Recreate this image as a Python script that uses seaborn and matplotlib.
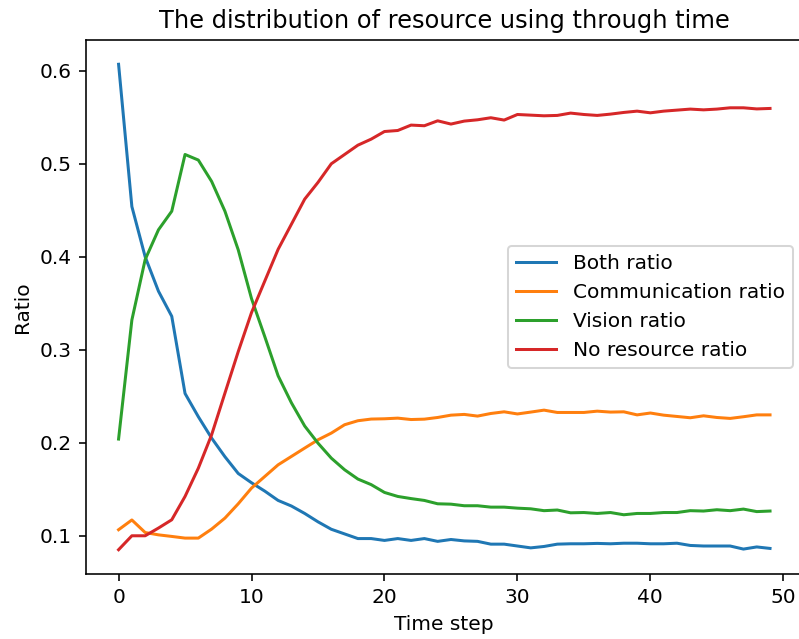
import matplotlib
matplotlib.use("Agg")
import matplotlib.pyplot as plt
import seaborn as sns
import pandas as pd
import numpy as np

time_steps = list(range(50))

both_ratio = [0.607, 0.454, 0.400, 0.363, 0.336, 0.253, 0.228, 0.205, 0.185, 0.167,
              0.157, 0.148, 0.138, 0.132, 0.124, 0.115, 0.107, 0.102, 0.097, 0.097,
              0.095, 0.097, 0.095, 0.097, 0.094, 0.096, 0.0945, 0.094, 0.091, 0.091,
              0.089, 0.087, 0.0885, 0.091, 0.0914, 0.0914, 0.0918, 0.0914, 0.092, 0.092,
              0.0914, 0.0914, 0.092, 0.0896, 0.089, 0.089, 0.089, 0.0857, 0.088, 0.0864]

communication_ratio = [0.1065, 0.117, 0.1035, 0.101, 0.0993, 0.0975, 0.0975, 0.1072, 0.119, 0.1344,
                       0.1513, 0.1638, 0.1763, 0.1853, 0.1943, 0.2032, 0.2104, 0.2194, 0.2237, 0.2255,
                       0.2258, 0.2265, 0.225, 0.2254, 0.2272, 0.2297, 0.2305, 0.2287, 0.2315, 0.2333,
                       0.231, 0.233, 0.2351, 0.2326, 0.2326, 0.2326, 0.234, 0.233, 0.2333, 0.230,
                       0.232, 0.2297, 0.2283, 0.2269, 0.229, 0.2272, 0.2262, 0.228, 0.230, 0.230]

vision_ratio = [0.204, 0.332, 0.397, 0.429, 0.449, 0.510, 0.504, 0.481, 0.449, 0.4075,
                0.355, 0.314, 0.272, 0.243, 0.218, 0.1996, 0.1835, 0.171, 0.161, 0.155,
                0.1466, 0.1423, 0.140, 0.138, 0.1344, 0.134, 0.1323, 0.1323, 0.1308, 0.1308,
                0.1297, 0.129, 0.127, 0.1277, 0.1247, 0.125, 0.124, 0.125, 0.1226, 0.124,
                0.124, 0.125, 0.125, 0.127, 0.1266, 0.128, 0.127, 0.1287, 0.126, 0.1266]

no_resource_ratio = [0.085, 0.100, 0.100, 0.1083, 0.1172, 0.1423, 0.1727, 0.2086, 0.2534, 0.298,
                     0.340, 0.374, 0.408, 0.435, 0.462, 0.480, 0.500, 0.510, 0.520, 0.5265,
                     0.5347, 0.5358, 0.5416, 0.5409, 0.5462, 0.5427, 0.5459, 0.5473, 0.5495, 0.547,
                     0.553, 0.5523, 0.5516, 0.552, 0.5545, 0.553, 0.552, 0.5534, 0.5552, 0.5566,
                     0.5548, 0.5566, 0.5577, 0.5588, 0.558, 0.5588, 0.5602, 0.5602, 0.559, 0.5595]

series_names = ["Both ratio", "Communication ratio", "Vision ratio", "No resource ratio"]
series_values = [both_ratio, communication_ratio, vision_ratio, no_resource_ratio]

frames = []
for name, vals in zip(series_names, series_values):
    frames.append(pd.DataFrame({"Time step": time_steps, "Ratio": vals, "series": name}))
df = pd.concat(frames, ignore_index=True)

dpi = 144.5
fig = plt.figure(figsize=(799 / dpi, 639 / dpi), dpi=dpi)
ax = fig.add_axes([86 / 799, (639 - 574) / 639, (802.6 - 86) / 799, (574 - 40) / 639])

sns.lineplot(data=df, x="Time step", y="Ratio", hue="series", hue_order=series_names,
             palette=["#1f77b4", "#ff7f0e", "#2ca02c", "#d62728"], linewidth=1.5, ax=ax)

ax.set_title("The distribution of resource using through time")
ax.set_xlabel("Time step")
ax.set_ylabel("Ratio")
ax.set_xticks([0, 10, 20, 30, 40, 50])
ax.set_yticks([0.1, 0.2, 0.3, 0.4, 0.5, 0.6])
ax.legend(title=None, loc="center right")

fig.savefig("out.png", dpi=dpi)
